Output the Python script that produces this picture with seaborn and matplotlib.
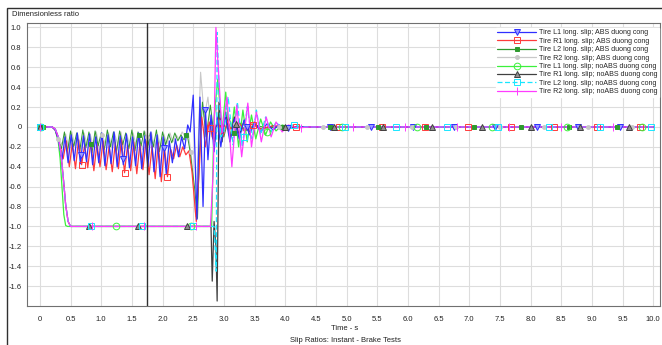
import numpy as np
import seaborn as sns
import matplotlib.pyplot as plt
from matplotlib.lines import Line2D
from matplotlib.patches import Rectangle

# ---- data ----
ramp_abs_t = [0.0, 0.20, 0.25, 0.30]
ramp_abs_v = [0.0, 0.0, -0.03, -0.12]

# Tire L1 ABS
l1_abs_osc = [-0.33, -0.10, -0.36, -0.08, -0.34, -0.06, -0.37, -0.09, -0.35, -0.07,
              -0.38, -0.10, -0.36, -0.06, -0.39, -0.08, -0.37, -0.05, -0.40, -0.09,
              -0.38, -0.07, -0.41, -0.10, -0.39, -0.06, -0.42, -0.09, -0.40, -0.05,
              -0.45, -0.08, -0.50, -0.10, -0.47, -0.14, -0.36, -0.12, -0.30, -0.10,
              -0.22, 0.02]
l1_abs_tail_t = [2.45, 2.50, 2.56, 2.61, 2.66, 2.70, 2.74, 2.79, 2.84, 2.89, 2.95, 3.02,
                 3.10, 3.17, 3.25, 3.33, 3.42, 3.50, 3.60, 3.70, 3.80, 3.90, 4.00, 4.20, 10.0]
l1_abs_tail_v = [-0.05, 0.32, -0.93, 0.30, -0.80, 0.17, -0.33, 0.12, -0.25, 0.10, -0.20, 0.12,
                 -0.15, 0.08, -0.12, 0.07, -0.08, 0.05, -0.05, 0.03, -0.03, 0.02, -0.01, 0.0, 0.0]

# Tire R1 ABS
r1_abs_osc = [-0.32, -0.14, -0.40, -0.16, -0.42, -0.13, -0.38, -0.18, -0.41, -0.15,
              -0.44, -0.17, -0.40, -0.14, -0.43, -0.19, -0.45, -0.16, -0.42, -0.13,
              -0.46, -0.18, -0.44, -0.15, -0.47, -0.17, -0.43, -0.14, -0.48, -0.19,
              -0.52, -0.16, -0.55, -0.20, -0.50, -0.22, -0.32, -0.18, -0.30, -0.20,
              -0.28, -0.24]
r1_abs_tail_t = [2.48, 2.55, 2.60, 2.64, 2.70, 2.76, 2.82, 2.90, 2.98, 3.06, 3.15, 3.24,
                 3.33, 3.45, 3.60, 3.80, 4.00, 10.0]
r1_abs_tail_v = [-0.45, -0.95, -0.40, 0.10, -0.20, 0.05, -0.12, 0.08, -0.10, 0.06, -0.07, 0.05,
                 -0.04, 0.03, -0.02, 0.01, 0.0, 0.0]

# Tire L2 ABS
l2_abs_osc = [-0.22, -0.05, -0.25, -0.04, -0.20, -0.06, -0.24, -0.03, -0.21, -0.05,
              -0.26, -0.04, -0.19, -0.06, -0.23, -0.03, -0.20, -0.05, -0.25, -0.04,
              -0.18, -0.06, -0.22, -0.03, -0.24, -0.05, -0.19, -0.04, -0.23, -0.06,
              -0.20, -0.03, -0.25, -0.05, -0.18, -0.07, -0.16, -0.06, -0.14, -0.08,
              -0.13, -0.07]
l2_abs_tail_t = [2.45, 2.52, 2.57, 2.60, 2.65, 2.71, 2.78, 2.85, 2.92, 3.00, 3.08, 3.16,
                 3.25, 3.35, 3.50, 3.70, 3.90, 10.0]
l2_abs_tail_v = [-0.25, -0.60, -0.92, -0.30, 0.25, -0.10, 0.22, -0.15, 0.15, -0.10, 0.10, -0.07,
                 0.05, -0.04, 0.02, -0.01, 0.0, 0.0]

# Tire R2 ABS
r2_abs_osc = [-0.18, -0.07, -0.21, -0.05, -0.19, -0.08, -0.22, -0.06, -0.18, -0.07,
              -0.20, -0.05, -0.23, -0.08, -0.19, -0.06, -0.21, -0.07, -0.18, -0.05,
              -0.22, -0.08, -0.20, -0.06, -0.19, -0.07, -0.23, -0.05, -0.18, -0.06,
              -0.21, -0.08, -0.20, -0.07, -0.17, -0.06, -0.15, -0.08, -0.12, -0.05,
              -0.10, -0.06]
r2_abs_tail_t = [2.47, 2.54, 2.58, 2.62, 2.68, 2.74, 2.80, 2.87, 2.95, 3.03, 3.12, 3.20,
                 3.30, 3.45, 3.60, 3.80, 10.0]
r2_abs_tail_v = [-0.30, -0.90, -0.20, 0.55, 0.10, 0.30, -0.10, 0.20, -0.10, 0.12, -0.08, 0.06,
                 -0.04, 0.02, -0.01, 0.0, 0.0]

# noABS tires
l1_noabs_t = [0.0, 0.20, 0.25, 0.30, 0.33, 0.36, 0.39, 0.42, 0.45, 2.80, 2.84, 2.90, 2.97,
              3.03, 3.10, 3.17, 3.24, 3.31, 3.38, 3.45, 3.52, 3.60, 3.68, 3.76, 3.85, 3.95,
              4.10, 4.30, 10.0]
l1_noabs_v = [0.0, 0.0, -0.03, -0.15, -0.32, -0.60, -0.88, -0.99, -1.0, -1.0, 0.10, 0.48, -0.05,
              0.35, -0.15, 0.20, -0.20, 0.17, -0.15, 0.12, -0.12, 0.08, -0.08, 0.05, -0.04, 0.02,
              -0.01, 0.0, 0.0]

r1_noabs_t = [0.0, 0.20, 0.25, 0.30, 0.34, 0.38, 0.42, 0.46, 0.50, 2.79, 2.81, 2.84, 2.87,
              2.89, 2.92, 2.97, 3.03, 3.10, 3.17, 3.25, 3.33, 3.42, 3.50, 3.60, 3.80, 4.00, 10.0]
r1_noabs_v = [0.0, 0.0, -0.02, -0.10, -0.25, -0.50, -0.78, -0.95, -1.0, -1.0, -1.55, -0.95, -1.20,
              -1.75, 0.25, -0.15, 0.15, -0.12, 0.10, -0.08, 0.06, -0.05, 0.03, -0.02, 0.01, 0.0, 0.0]

l2_noabs_t = [0.0, 0.20, 0.25, 0.30, 0.34, 0.38, 0.42, 0.46, 0.50, 2.84, 2.875, 2.89, 2.95,
              3.00, 3.07, 3.15, 3.22, 3.30, 3.38, 3.46, 3.53, 3.60, 3.68, 3.77, 3.85, 3.95,
              4.10, 4.30, 10.0]
l2_noabs_v = [0.0, 0.0, -0.02, -0.10, -0.25, -0.50, -0.78, -0.95, -1.0, -1.0, -1.45, 0.95, -0.10,
              -0.05, 0.30, -0.18, 0.25, -0.20, 0.20, -0.12, 0.17, -0.08, 0.10, -0.05, 0.05, -0.02,
              0.02, 0.0, 0.0]

r2_noabs_t = [0.0, 0.20, 0.25, 0.30, 0.34, 0.38, 0.42, 0.46, 0.50, 2.78, 2.83, 2.87, 2.97,
              3.05, 3.13, 3.21, 3.29, 3.39, 3.45, 3.53, 3.61, 3.69, 3.77, 3.85, 3.95, 4.05,
              4.20, 4.40, 10.0]
r2_noabs_v = [0.0, 0.0, -0.02, -0.10, -0.25, -0.50, -0.78, -0.95, -1.0, -1.0, -0.40, 1.0, -0.06,
              0.30, -0.40, 0.22, -0.30, 0.24, -0.20, 0.15, -0.15, 0.10, -0.10, 0.05, -0.05, 0.02,
              -0.01, 0.0, 0.0]

labels = ["Tire L1 long. slip; ABS duong cong", "Tire R1 long. slip; ABS duong cong",
          "Tire L2 long. slip; ABS duong cong", "Tire R2 long. slip; ABS duong cong",
          "Tire L1 long. slip; noABS duong cong", "Tire R1 long. slip; noABS duong cong",
          "Tire L2 long. slip; noABS duong cong", "Tire R2 long. slip; noABS duong cong"]
x_ticks = [0, 0.5, 1.0, 1.5, 2.0, 2.5, 3.0, 3.5, 4.0, 4.5, 5.0, 5.5, 6.0, 6.5, 7.0, 7.5,
           8.0, 8.5, 9.0, 9.5, 10.0]
y_ticks = [1.0, 0.8, 0.6, 0.4, 0.2, 0, -0.2, -0.4, -0.6, -0.8, -1.0, -1.2, -1.4, -1.6]


def abs_series(start, osc, tail_t, tail_v):
    osc_t = start + 0.05 * np.arange(len(osc))
    t = np.r_[ramp_abs_t, osc_t, tail_t]
    v = np.r_[ramp_abs_v, osc, tail_v]
    return t, v


series = [
    abs_series(0.36, l1_abs_osc, l1_abs_tail_t, l1_abs_tail_v),
    abs_series(0.38, r1_abs_osc, r1_abs_tail_t, r1_abs_tail_v),
    abs_series(0.35, l2_abs_osc, l2_abs_tail_t, l2_abs_tail_v),
    abs_series(0.37, r2_abs_osc, r2_abs_tail_t, r2_abs_tail_v),
    (np.array(l1_noabs_t), np.array(l1_noabs_v)),
    (np.array(r1_noabs_t), np.array(r1_noabs_v)),
    (np.array(l2_noabs_t), np.array(l2_noabs_v)),
    (np.array(r2_noabs_t), np.array(r2_noabs_v)),
]

# style: color, linestyle, width, zorder, marker, marker face, marker size, marker start, step
styles = [
    ("#2f2fff", "-", 0.9, 2.6, "v", "#9a9aff", 4.5, 0.0, 0.675),
    ("#ff3b3b", "-", 0.9, 2.5, "s", "none", 4.3, 0.68, 0.70),
    ("#2e9a2e", "-", 0.7, 2.2, "s", "#2e9a2e", 2.8, 0.05, 0.78),
    ("#c8c8c8", "-", 0.8, 2.1, "o", "#c8c8c8", 2.8, 0.30, 0.72),
    ("#3cf03c", "-", 0.9, 2.3, "o", "none", 4.8, 0.02, 1.225),
    ("#404040", "-", 0.9, 2.4, "^", "#909090", 4.3, 0.0, 0.80),
    ("#19e6ff", (0, (4, 2)), 0.9, 2.7, "s", "none", 4.3, 0.0, 0.83),
    ("#ff3cff", "-", 0.9, 2.8, "|", "#ff3cff", 5.5, 0.0, 0.85),
]

sns.set_style("white")
plt.rcParams["font.family"] = ["Liberation Sans", "DejaVu Sans"]

fig = plt.figure(figsize=(6.62, 3.45), dpi=100)
ax = fig.add_axes([27 / 662, 1 - 306 / 345, 633 / 662, 283 / 345])

handles = []
for (t, v), lab, (c, ls, lw, z, mk, mfc, ms, m0, mstep) in zip(series, labels, styles):
    sns.lineplot(x=t, y=v, ax=ax, color=c, linestyle=ls, lw=lw, estimator=None, sort=False,
                 zorder=z)
    mt = np.arange(m0, 10.0, mstep)
    ax.plot(mt, np.interp(mt, t, v), ls="none", marker=mk, ms=ms, mfc=mfc, mec=c, mew=0.7,
            zorder=3)
    handles.append(Line2D([], [], color=c, linestyle=ls, lw=0.9, marker=mk, ms=ms,
                          mfc=mfc, mec=c, mew=0.7))

ax.axvline(1.75, color="#303030", lw=1.0, zorder=4)

ax.set_xlim(-0.21, 10.11)
ax.set_ylim(-1.80, 1.045)
ax.set_xticks(x_ticks)
ax.set_xticklabels(["0"] + [f"{x:.1f}" for x in x_ticks[1:]])
ax.set_yticks(y_ticks)
ax.set_yticklabels([("0" if y == 0 else f"{y:.1f}") for y in y_ticks])
ax.grid(True, color="#dddddd", lw=0.8)
ax.tick_params(labelsize=5.5, length=0, colors="#222222")
ax.tick_params(axis="x", pad=7)
ax.tick_params(axis="y", pad=4)
for s in ax.spines.values():
    s.set_color("#707070")
    s.set_linewidth(0.8)
ax.set_xlabel("")
ax.set_ylabel("")

leg = ax.legend(handles, labels, loc="upper right", bbox_to_anchor=(1.004, 0.995),
                fontsize=5.1, handlelength=5.5, labelspacing=0.2, handletextpad=0.4,
                borderpad=0.2, frameon=True, fancybox=False)
leg.get_frame().set_facecolor("white")
leg.get_frame().set_edgecolor("white")
leg.get_frame().set_alpha(1)
leg.set_zorder(10)

fig.text(12 / 662, 1 - 15 / 345, "Dimensionless ratio", fontsize=5.5, va="center", color="#222222")
fig.text(345 / 662, 1 - 329 / 345, "Time - s", fontsize=5.5, ha="center", va="center", color="#222222")
fig.text(345 / 662, 1 - 340 / 345, "Slip Ratios: Instant - Brake Tests", fontsize=5.5,
         ha="center", va="center", color="#222222")
fig.add_artist(Rectangle((7 / 662, -0.01), 1.0, 1 - 8 / 345 + 0.01, transform=fig.transFigure,
                         fill=False, ec="#303030", lw=1.0))

fig.savefig("out.png", dpi=100)
